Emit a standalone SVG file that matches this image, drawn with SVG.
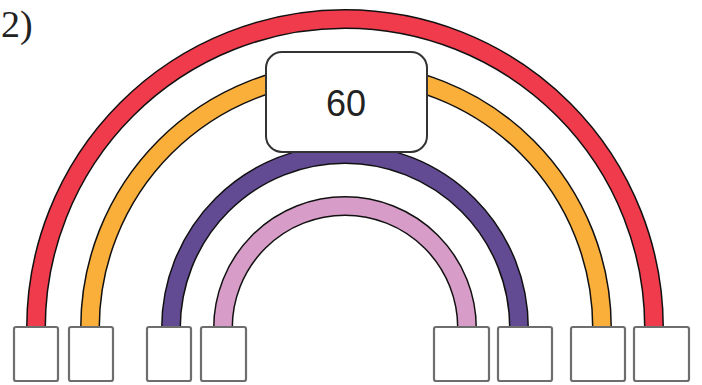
<svg xmlns="http://www.w3.org/2000/svg" width="702" height="385" viewBox="0 0 702 385">
  <style>
    .edge { fill: none; stroke: #111; stroke-width: 20; stroke-linecap: butt; }
    .fillband { fill: none; stroke-width: 17; stroke-linecap: butt; }
    .red { stroke: #EF3B4B; }
    .orange { stroke: #FAAF3B; }
    .purple { stroke: #634B94; }
    .pink { stroke: #D79DC8; }
    .slot { fill: #fff; stroke: #6e6e6e; stroke-width: 2.2; }
    .label { font-family: "Liberation Sans", Arial, sans-serif; font-size: 36px; fill: #222; text-anchor: middle; }
    .title { font-family: "Liberation Serif", "Times New Roman", serif; font-size: 38px; fill: #222; }
  </style>
  <rect width="702" height="385" fill="#fff"/>
  <text class="title" x="1" y="37">2)</text>
  <g id="connectors">
    <path class="edge" d="M36 328 A309 309 0 0 1 654 328"/>
    <path class="fillband red" d="M36 328 A309 309 0 0 1 654 328"/>
    <path class="edge" d="M90 328 A256 256 0 0 1 602 328"/>
    <path class="fillband orange" d="M90 328 A256 256 0 0 1 602 328"/>
    <path class="edge" d="M171 328 A174 174 0 0 1 519 328"/>
    <path class="fillband purple" d="M171 328 A174 174 0 0 1 519 328"/>
    <path class="edge" d="M223 328 A122 122 0 0 1 467 328"/>
    <path class="fillband pink" d="M223 328 A122 122 0 0 1 467 328"/>
  </g>
  <g id="center">
    <rect x="266" y="52" width="161" height="100" rx="16" fill="#fff" stroke="#333" stroke-width="2"/>
    <text class="label" x="346" y="116">60</text>
  </g>
  <g id="slot1"><rect class="slot" x="14" y="327" width="44" height="54" rx="2"/></g>
  <g id="slot2"><rect class="slot" x="69" y="327" width="44" height="54" rx="2"/></g>
  <g id="slot3"><rect class="slot" x="147" y="327" width="44" height="54" rx="2"/></g>
  <g id="slot4"><rect class="slot" x="201" y="327" width="45" height="54" rx="2"/></g>
  <g id="slot5"><rect class="slot" x="434" y="327" width="55" height="54" rx="2"/></g>
  <g id="slot6"><rect class="slot" x="498" y="327" width="54" height="54" rx="2"/></g>
  <g id="slot7"><rect class="slot" x="571" y="327" width="54" height="54" rx="2"/></g>
  <g id="slot8"><rect class="slot" x="634" y="327" width="55" height="54" rx="2"/></g>
</svg>
